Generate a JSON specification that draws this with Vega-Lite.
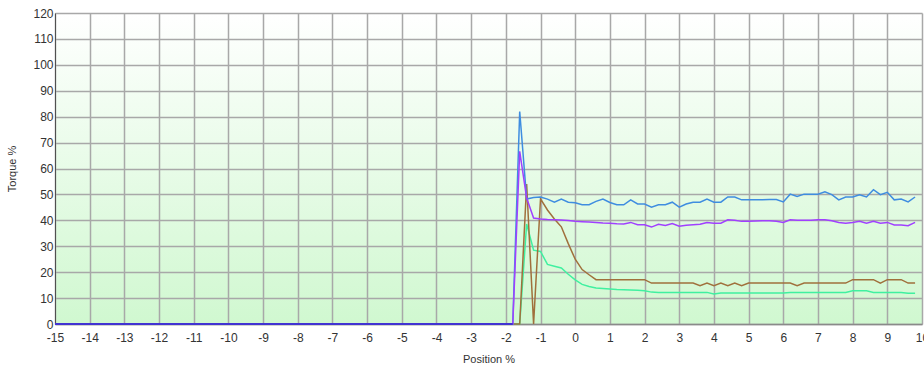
{
  "$schema": "https://vega.github.io/schema/vega-lite/v6.json",
  "width": 867,
  "height": 311,
  "autosize": {"type": "none"},
  "padding": {"left": 55, "top": 13, "right": 2, "bottom": 46},
  "background": "white",
  "view": {"stroke": null, "fill": {"gradient": "linear", "x1": 0, "y1": 0, "x2": 0, "y2": 1, "stops": [{"offset": 0, "color": "#ffffff"}, {"offset": 1, "color": "#d0f8d0"}]}},
  "config": {"font": "Liberation Sans"},
  "data": {"values": [
    {"x": -15, "blue": 0, "purple": 0, "brown": 0, "green": 0, "base": 0},
    {"x": -1.8, "blue": 0, "purple": 0, "brown": 0, "green": 0, "base": 0},
    {"x": -1.6, "blue": 82, "purple": 66.6, "brown": 0, "green": 0},
    {"x": -1.4, "blue": 48.2, "purple": 48.6, "brown": 54, "green": 38.6},
    {"x": -1.2, "blue": 48.8, "purple": 40.9, "brown": 0, "green": 28.5},
    {"x": -1.0, "blue": 49, "purple": 40.5, "brown": 48.3, "green": 28},
    {"x": -0.8, "blue": 48.2, "purple": 40.3, "brown": 44, "green": 23},
    {"x": -0.6, "blue": 47, "purple": 40.2, "brown": 40.5, "green": 22.3},
    {"x": -0.4, "blue": 48.2, "purple": 40.1, "brown": 37.5, "green": 21.6},
    {"x": -0.2, "blue": 47, "purple": 39.9, "brown": 31, "green": 19.2},
    {"x": 0, "blue": 46.8, "purple": 39.6, "brown": 25, "green": 17},
    {"x": 0.2, "blue": 46, "purple": 39.5, "brown": 21, "green": 15.3},
    {"x": 0.4, "blue": 46, "purple": 39.4, "brown": 19, "green": 14.5},
    {"x": 0.6, "blue": 47.3, "purple": 39.2, "brown": 17.1, "green": 13.9},
    {"x": 0.8, "blue": 48.2, "purple": 39.0, "brown": 17.1, "green": 13.7},
    {"x": 1.0, "blue": 46.9, "purple": 38.9, "brown": 17.1, "green": 13.5},
    {"x": 1.2, "blue": 46, "purple": 38.7, "brown": 17.1, "green": 13.3},
    {"x": 1.4, "blue": 46, "purple": 38.6, "brown": 17.1, "green": 13.2},
    {"x": 1.6, "blue": 47.9, "purple": 39.2, "brown": 17.1, "green": 13.1},
    {"x": 1.8, "blue": 46.3, "purple": 38.3, "brown": 17.1, "green": 13},
    {"x": 2.0, "blue": 46.3, "purple": 38.3, "brown": 17.1, "green": 12.8},
    {"x": 2.2, "blue": 45.1, "purple": 37.4, "brown": 15.8, "green": 12.3},
    {"x": 2.4, "blue": 46, "purple": 38.5, "brown": 15.8, "green": 12.2},
    {"x": 2.6, "blue": 46, "purple": 38, "brown": 15.8, "green": 12.2},
    {"x": 2.8, "blue": 47, "purple": 38.8, "brown": 15.8, "green": 12.2},
    {"x": 3.0, "blue": 45.1, "purple": 37.7, "brown": 15.8, "green": 12.2},
    {"x": 3.2, "blue": 46.3, "purple": 38.1, "brown": 15.8, "green": 12.2},
    {"x": 3.4, "blue": 47, "purple": 38.3, "brown": 15.8, "green": 12.2},
    {"x": 3.6, "blue": 47, "purple": 38.5, "brown": 14.8, "green": 12.2},
    {"x": 3.8, "blue": 48.2, "purple": 39.2, "brown": 15.8, "green": 12.2},
    {"x": 4.0, "blue": 47, "purple": 38.9, "brown": 14.8, "green": 11.6},
    {"x": 4.2, "blue": 47, "purple": 38.9, "brown": 15.8, "green": 12},
    {"x": 4.4, "blue": 49, "purple": 40.2, "brown": 14.8, "green": 12},
    {"x": 4.6, "blue": 49, "purple": 40, "brown": 15.8, "green": 12},
    {"x": 4.8, "blue": 47.9, "purple": 39.6, "brown": 14.8, "green": 12},
    {"x": 5.0, "blue": 47.9, "purple": 39.6, "brown": 15.8, "green": 12},
    {"x": 5.2, "blue": 47.9, "purple": 39.7, "brown": 15.8, "green": 12},
    {"x": 5.4, "blue": 47.9, "purple": 39.8, "brown": 15.8, "green": 12},
    {"x": 5.6, "blue": 48, "purple": 39.8, "brown": 15.8, "green": 12},
    {"x": 5.8, "blue": 48, "purple": 39.6, "brown": 15.8, "green": 12},
    {"x": 6.0, "blue": 47.1, "purple": 39.2, "brown": 15.8, "green": 12},
    {"x": 6.2, "blue": 50.1, "purple": 40.2, "brown": 15.8, "green": 12.2},
    {"x": 6.4, "blue": 49.2, "purple": 40, "brown": 14.8, "green": 12.2},
    {"x": 6.6, "blue": 50.1, "purple": 40, "brown": 15.8, "green": 12.2},
    {"x": 6.8, "blue": 50.1, "purple": 40, "brown": 15.8, "green": 12.2},
    {"x": 7.0, "blue": 50.1, "purple": 40.2, "brown": 15.8, "green": 12.2},
    {"x": 7.2, "blue": 51, "purple": 40.2, "brown": 15.8, "green": 12.2},
    {"x": 7.4, "blue": 49.9, "purple": 39.8, "brown": 15.8, "green": 12.2},
    {"x": 7.6, "blue": 47.9, "purple": 39.2, "brown": 15.8, "green": 12.2},
    {"x": 7.8, "blue": 49, "purple": 38.9, "brown": 15.8, "green": 12.2},
    {"x": 8.0, "blue": 49, "purple": 39.2, "brown": 17.1, "green": 12.8},
    {"x": 8.2, "blue": 49.9, "purple": 39.6, "brown": 17.1, "green": 12.8},
    {"x": 8.4, "blue": 49, "purple": 38.9, "brown": 17.1, "green": 12.8},
    {"x": 8.6, "blue": 51.8, "purple": 39.6, "brown": 17.1, "green": 12.2},
    {"x": 8.8, "blue": 49.9, "purple": 38.9, "brown": 15.8, "green": 12.2},
    {"x": 9.0, "blue": 50.8, "purple": 39.2, "brown": 17.1, "green": 12.2},
    {"x": 9.2, "blue": 47.9, "purple": 38.2, "brown": 17.1, "green": 12.2},
    {"x": 9.4, "blue": 48.2, "purple": 38.2, "brown": 17.1, "green": 12.2},
    {"x": 9.6, "blue": 47.1, "purple": 37.9, "brown": 15.8, "green": 11.9},
    {"x": 9.8, "blue": 49, "purple": 39.2, "brown": 15.8, "green": 11.9}
  ]},
  "transform": [
    {"fold": ["green", "brown", "blue", "purple", "base"], "as": ["series", "v"]},
    {"filter": "isValid(datum.v)"}
  ],
  "mark": {"type": "line", "strokeWidth": 1.5, "clip": false},
  "encoding": {
    "x": {
      "field": "x", "type": "quantitative",
      "scale": {"domain": [-15, 10], "nice": false, "zero": false},
      "axis": {
        "title": "Position %", "values": [-15,-14,-13,-12,-11,-10,-9,-8,-7,-6,-5,-4,-3,-2,-1,0,1,2,3,4,5,6,7,8,9,10],
        "labelExpr": "replace(datum.label, '\u2212', '-')",
        "ticks": false, "labelPadding": 8, "labelFontSize": 12, "labelColor": "#333333",
        "titleFontSize": 11, "titleFontWeight": "normal", "titleColor": "#333333", "titlePadding": 10,
        "gridColor": "#a8a8a8", "gridWidth": 1.5, "gridOpacity": 1,
        "domainColor": "#8a8a8a", "domainWidth": 1.5, "labelFlush": false, "labelOverlap": false
      }
    },
    "y": {
      "field": "v", "type": "quantitative",
      "scale": {"domain": [0, 120], "nice": false},
      "axis": {
        "title": "Torque %", "values": [0,10,20,30,40,50,60,70,80,90,100,110,120],
        "ticks": false, "labelPadding": 2, "labelFontSize": 12, "labelColor": "#333333",
        "titleFontSize": 11, "titleFontWeight": "normal", "titleColor": "#333333", "titlePadding": 15,
        "gridColor": "#a8a8a8", "gridWidth": 1.5, "gridOpacity": 1,
        "domainColor": "#505050", "domainWidth": 1, "labelFlush": false, "labelOverlap": false
      }
    },
    "color": {
      "field": "series", "type": "nominal",
      "scale": {"domain": ["green", "brown", "blue", "purple", "base"], "range": ["#40f0a0", "#a0703c", "#3f8de0", "#a040ff", "#2a2ac8"]},
      "legend": null
    }
  }
}
